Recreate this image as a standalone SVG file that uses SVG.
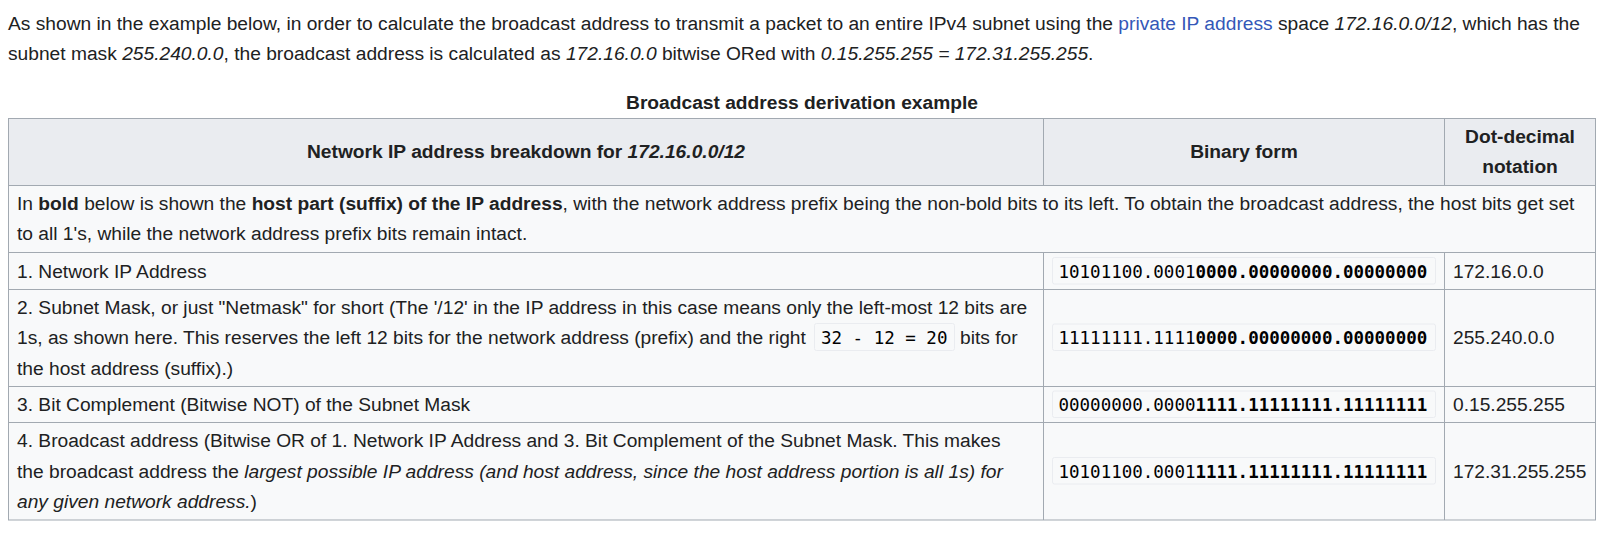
<svg xmlns="http://www.w3.org/2000/svg" width="1607" height="538" viewBox="0 0 1607 538">
<style>
text { font-family: "Liberation Sans", Arial, sans-serif; font-size: 19.2px; fill: #202122; }
.b { font-weight: bold; }
.i { font-style: italic; }
.c { text-anchor: middle; }
.link { fill: #3457b8; }
.mono { font-family: "DejaVu Sans Mono", "Liberation Mono", monospace; font-size: 17.5px; fill: #000000; }
.code { fill: #f8f9fa; stroke: #eaecf0; stroke-width: 1; }
.grid { stroke: #a2a9b1; stroke-width: 1; fill: none; }
</style>
<rect x="0" y="0" width="1607" height="538" fill="#ffffff"/>

<g id="intro">
<text x="8" y="29.5">As shown in the example below, in order to calculate the broadcast address to transmit a packet to an entire IPv4 subnet using the <tspan class="link">private IP address</tspan> space <tspan class="i">172.16.0.0/12</tspan>, which has the</text>
<text x="8" y="59.5">subnet mask <tspan class="i">255.240.0.0</tspan>, the broadcast address is calculated as <tspan class="i">172.16.0.0</tspan> bitwise ORed with <tspan class="i">0.15.255.255 = 172.31.255.255</tspan>.</text>
</g>

<g id="caption">
<text class="b c" x="802" y="109">Broadcast address derivation example</text>
</g>

<g id="table-grid">
<rect x="8.5" y="118.5" width="1587" height="401.5" fill="#f8f9fa"/>
<rect x="8.5" y="118.5" width="1587" height="67" fill="#eaecf0"/>
<rect class="grid" x="8.5" y="118.5" width="1587" height="401.5"/>
<path class="grid" d="M8.5 185.5H1595.5M8.5 252.5H1595.5M8.5 289.5H1595.5M8.5 386.5H1595.5M8.5 422.5H1595.5M1043.5 118.5V185.5M1444.5 118.5V185.5M1043.5 252.5V520M1444.5 252.5V520"/>
</g>

<g id="header">
<text class="b c" x="526" y="157.7">Network IP address breakdown for <tspan class="i">172.16.0.0/12</tspan></text>
<text class="b c" x="1244" y="157.7">Binary form</text>
<text class="b c" x="1520" y="142.5">Dot-decimal</text>
<text class="b c" x="1520" y="172.9">notation</text>
</g>

<g id="row-desc">
<text x="17" y="210">In <tspan class="b">bold</tspan> below is shown the <tspan class="b">host part (suffix) of the IP address</tspan>, with the network address prefix being the non-bold bits to its left. To obtain the broadcast address, the host bits get set</text>
<text x="17" y="240.4">to all 1's, while the network address prefix bits remain intact.</text>
</g>

<g id="row-1">
<text x="17" y="277.5">1. Network IP Address</text>
<rect class="code" x="1052.5" y="257.5" width="383" height="26.5" rx="2"/>
<text class="mono" x="1058.5" y="277.5">10101100.0001<tspan class="b">0000.00000000.00000000</tspan></text>
<text x="1453" y="277.5">172.16.0.0</text>
</g>

<g id="row-2">
<text x="17" y="314">2. Subnet Mask, or just "Netmask" for short (The '/12' in the IP address in this case means only the left-most 12 bits are</text>
<text x="17" y="344.4">1s, as shown here. This reserves the left 12 bits for the network address (prefix) and the right</text>
<rect class="code" x="814.5" y="323.5" width="140" height="27" rx="2"/>
<text class="mono" x="821" y="344.4">32 - 12 = 20</text>
<text x="960" y="344.4">bits for</text>
<text x="17" y="374.8">the host address (suffix).)</text>
<rect class="code" x="1052.5" y="324" width="383" height="26.5" rx="2"/>
<text class="mono" x="1058.5" y="344.4">11111111.1111<tspan class="b">0000.00000000.00000000</tspan></text>
<text x="1453" y="344.4">255.240.0.0</text>
</g>

<g id="row-3">
<text x="17" y="411">3. Bit Complement (Bitwise NOT) of the Subnet Mask</text>
<rect class="code" x="1052.5" y="391" width="383" height="26.5" rx="2"/>
<text class="mono" x="1058.5" y="411">00000000.0000<tspan class="b">1111.11111111.11111111</tspan></text>
<text x="1453" y="411">0.15.255.255</text>
</g>

<g id="row-4">
<text x="17" y="447.4">4. Broadcast address (Bitwise OR of 1. Network IP Address and 3. Bit Complement of the Subnet Mask. This makes</text>
<text x="17" y="477.8">the broadcast address the <tspan class="i">largest possible IP address (and host address, since the host address portion is all 1s) for</tspan></text>
<text x="17" y="508.2"><tspan class="i">any given network address.</tspan>)</text>
<rect class="code" x="1052.5" y="457.5" width="383" height="26.5" rx="2"/>
<text class="mono" x="1058.5" y="477.8">10101100.0001<tspan class="b">1111.11111111.11111111</tspan></text>
<text x="1453" y="477.8">172.31.255.255</text>
</g>
</svg>
